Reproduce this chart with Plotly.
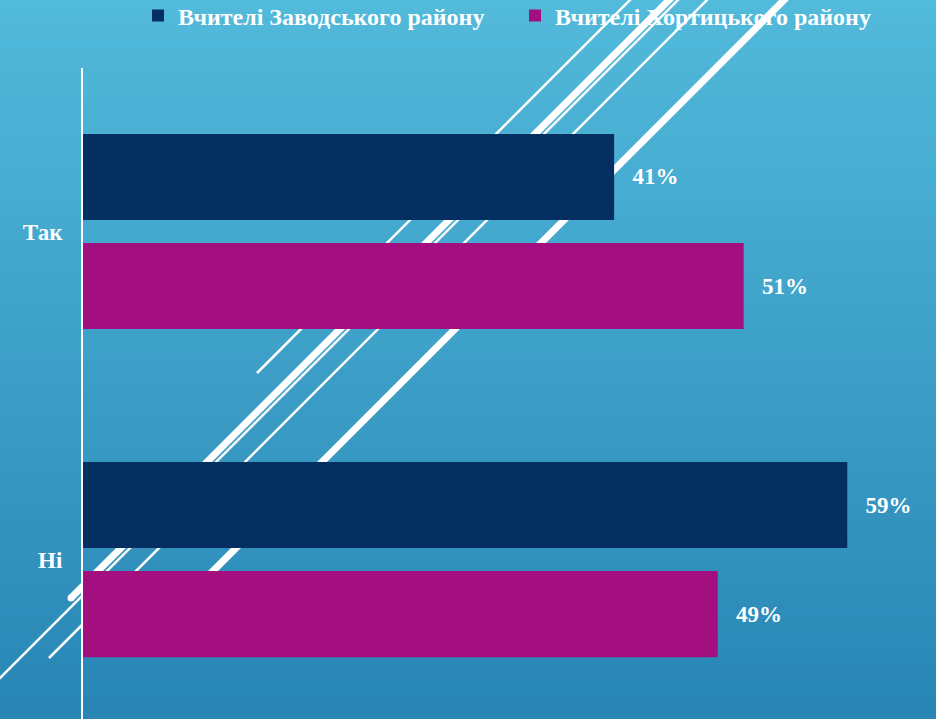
import plotly.graph_objects as go

categories = ["Так", "Ні"]
series_names = ["Вчителі Заводського району", "Вчителі Хортицького району"]
zavodsky = [41, 59]
khortytsky = [51, 49]
series_colors = ["#062f61", "#a40f80"]

FONT = "Liberation Serif, Times New Roman, serif"

W, H = 936, 719
L, R, T, B = 83, 11, 68, 0
PW, PH = W - L - R, H - T - B


def px(x):
    return (x - L) / PW


def py(y):
    return (H - y) / PH


fig = go.Figure()
for name, vals, col in zip(series_names, [zavodsky, khortytsky], series_colors):
    fig.add_trace(go.Bar(
        y=categories, x=vals, name=name, orientation="h",
        marker=dict(color=col, line=dict(width=0)),
        texttemplate="\u2004\u2004%{x}%", textposition="outside",
        textfont=dict(family=FONT, size=23, color="white", weight="bold"),
        cliponaxis=False,
    ))

shapes = []
# vertical background gradient
top = (82, 186, 219)
bot = (40, 133, 180)
n = 72
for i in range(n):
    y0 = i * H / n
    y1 = (i + 1) * H / n
    t = (i + 0.5) / n
    c = tuple(round(top[k] + (bot[k] - top[k]) * t) for k in range(3))
    shapes.append(dict(type="rect", xref="paper", yref="paper", layer="below",
                       x0=px(-2), x1=px(W + 2), y0=py(y0 - 0.5), y1=py(y1 + 0.5),
                       fillcolor="rgb(%d,%d,%d)" % c, line=dict(width=0)))

# decorative diagonal lines (c = x + y in pixels, y from top)
deco = [(630, 373, 2.5), (669, 598, 7), (678, 690, 2.5), (707, 658, 2.5), (784, 620, 7)]
for cc, yend, wd in deco:
    shapes.append(dict(type="line", xref="paper", yref="paper", layer="below",
                       x0=px(cc + 6), y0=py(-6), x1=px(cc - yend), y1=py(yend),
                       line=dict(color="white", width=wd)))
shapes.append(dict(type="circle", xref="paper", yref="paper", layer="below",
                   x0=px(669 - 598 - 3.5), x1=px(669 - 598 + 3.5),
                   y0=py(598 + 3.5), y1=py(598 - 3.5),
                   fillcolor="white", line=dict(width=0)))

fig.update_layout(
    width=W, height=H,
    margin=dict(l=L, r=R, t=T, b=B, autoexpand=False),
    paper_bgcolor="rgb(82,186,219)",
    plot_bgcolor="rgba(0,0,0,0)",
    barmode="group", bargap=0.335, bargroupgap=0.211,
    shapes=shapes,
    showlegend=True,
    legend=dict(orientation="h", x=px(138), xanchor="left", y=py(16), yanchor="middle",
                entrywidth=332, entrywidthmode="pixels",
                font=dict(family=FONT, size=24, color="white", weight="bold"),
                bgcolor="rgba(0,0,0,0)", traceorder="normal"),
    xaxis=dict(range=[0, 65], showgrid=False, zeroline=False, showticklabels=False,
               showline=False, fixedrange=True),
    yaxis=dict(type="category", categoryorder="array", categoryarray=categories,
               range=[1.486, -0.4985], showgrid=False, zeroline=False,
               showline=True, linecolor="white", linewidth=2, ticks="",
               ticklabelstandoff=14,
               tickfont=dict(family=FONT, size=23, color="white", weight="bold")),
)

fig.write_html("out.html",
               config={"displayModeBar": False},
               post_script="document.body.style.margin='0';document.body.style.padding='0';"
                           "document.body.style.overflow='hidden';"
                           "window.dispatchEvent(new Event('resize'));")
